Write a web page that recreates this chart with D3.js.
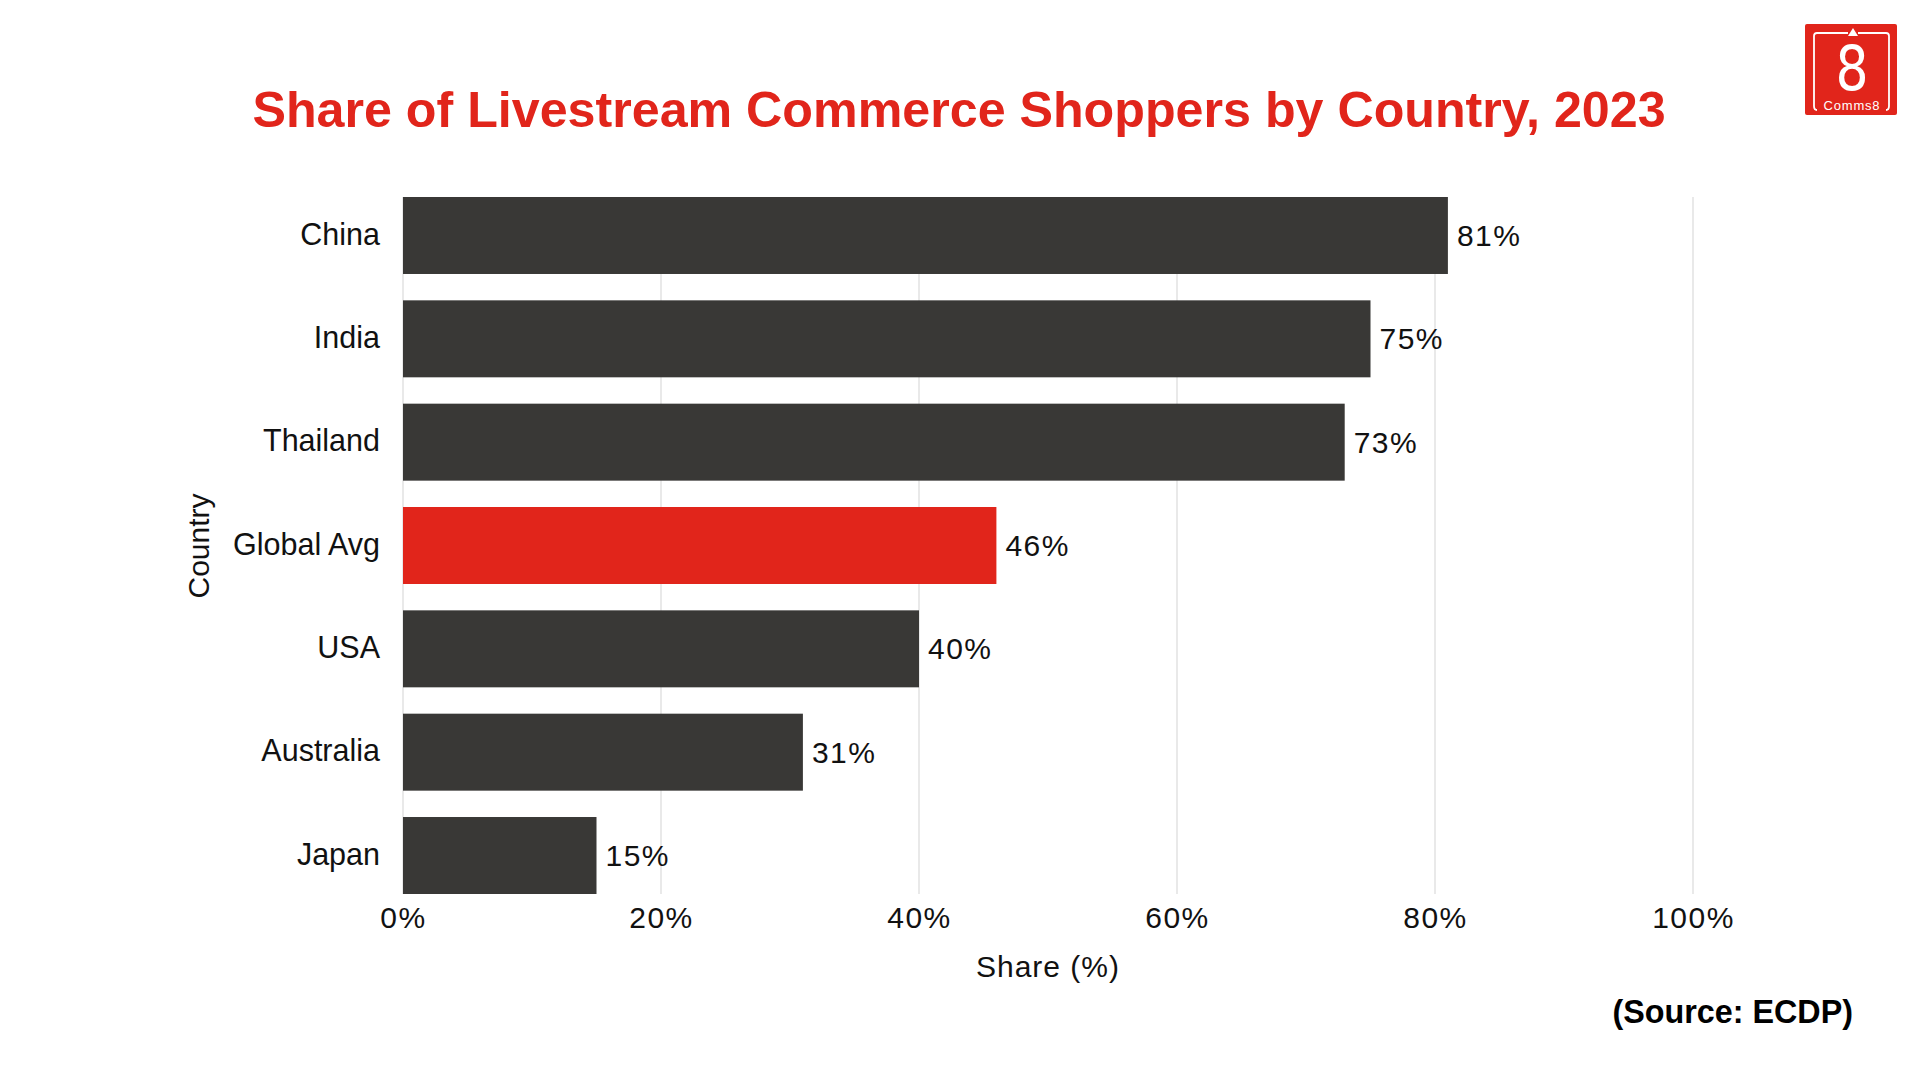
<!DOCTYPE html>
<html>
<head>
<meta charset="utf-8">
<script src="https://cdn.jsdelivr.net/npm/d3@7"></script>
<style>
  html, body { margin: 0; padding: 0; background: #fff; }
  svg { display: block; font-family: "Liberation Sans", Arial, Helvetica, sans-serif; }
</style>
</head>
<body>
<div id="chart"></div>
<script>
// data
const countries = ["China", "India", "Thailand", "Global Avg", "USA", "Australia", "Japan"];
const shares = [81, 75, 73, 46, 40, 31, 15];
const highlighted = "Global Avg";
const xTicks = [0, 20, 40, 60, 80, 100];

const W = 1920, H = 1080;
const margin = {top: 197, left: 403};
const plotW = 1290, plotH = 697;

const data = countries.map((c, i) => ({country: c, share: shares[i]}));

const svg = d3.select("#chart")
  .append("svg")
    .attr("width", W)
    .attr("height", H);

// title
svg.append("text")
  .attr("x", 959)
  .attr("y", 127)
  .attr("text-anchor", "middle")
  .attr("font-size", 50.2)
  .attr("font-weight", "bold")
  .attr("fill", "#e1251b")
  .text("Share of Livestream Commerce Shoppers by Country, 2023");

const g = svg.append("g")
  .attr("transform", "translate(" + margin.left + "," + margin.top + ")");

const x = d3.scaleLinear()
  .domain([0, 100])
  .range([0, plotW]);

const y = d3.scaleBand()
  .domain(countries)
  .range([0, plotH])
  .paddingInner(0.255)
  .paddingOuter(0);

// grid lines
g.selectAll(".grid")
  .data(xTicks)
  .enter()
  .append("line")
    .attr("x1", d => x(d))
    .attr("x2", d => x(d))
    .attr("y1", 0)
    .attr("y2", plotH)
    .attr("stroke", "#dedede")
    .attr("stroke-width", 1.3);

// x axis (labels only)
const xAxis = g.append("g")
  .attr("transform", "translate(0," + plotH + ")")
  .call(d3.axisBottom(x).tickValues(xTicks).tickFormat(d => d + "%").tickSize(0).tickPadding(0));
xAxis.select(".domain").remove();
xAxis.selectAll("text")
  .attr("y", 33.5)
  .attr("dy", 0)
  .attr("font-size", 30)
  .attr("letter-spacing", 1.5)
  .attr("fill", "#111")
  .attr("font-family", "Liberation Sans, Arial, sans-serif");

// y axis (labels only)
const yAxis = g.append("g")
  .call(d3.axisLeft(y).tickSize(0).tickPadding(23));
yAxis.select(".domain").remove();
yAxis.selectAll("text")
  .attr("font-size", 30.5)
  .attr("dy", "0.3em")
  .attr("fill", "#111")
  .attr("font-family", "Liberation Sans, Arial, sans-serif");

// bars
g.selectAll(".bar")
  .data(data)
  .enter()
  .append("rect")
    .attr("x", x(0))
    .attr("y", d => y(d.country))
    .attr("width", d => x(d.share) - x(0))
    .attr("height", y.bandwidth())
    .attr("fill", d => d.country === highlighted ? "#e1251b" : "#393836");

// value labels
g.selectAll(".val")
  .data(data)
  .enter()
  .append("text")
    .attr("x", d => x(d.share) + 9)
    .attr("y", d => y(d.country) + y.bandwidth() / 2)
    .attr("dy", "0.35em")
    .attr("font-size", 30)
    .attr("letter-spacing", 1.5)
    .attr("fill", "#111")
    .text(d => d.share + "%");

// axis titles
svg.append("text")
  .attr("x", 1048)
  .attr("y", 977)
  .attr("text-anchor", "middle")
  .attr("font-size", 30)
  .attr("letter-spacing", 1)
  .attr("fill", "#111")
  .text("Share (%)");

svg.append("text")
  .attr("transform", "translate(209,546) rotate(-90)")
  .attr("text-anchor", "middle")
  .attr("font-size", 30)
  .attr("fill", "#111")
  .text("Country");

// source
svg.append("text")
  .attr("x", 1853)
  .attr("y", 1023)
  .attr("text-anchor", "end")
  .attr("font-size", 32.3)
  .attr("font-weight", "bold")
  .attr("fill", "#000")
  .text("(Source: ECDP)");

// logo
const logo = svg.append("g").attr("transform", "translate(1805,24)");
logo.append("rect")
  .attr("width", 92).attr("height", 91).attr("rx", 2)
  .attr("fill", "#e1251b");
logo.append("path")
  .attr("d", "M12,86 Q9,86 9,82 L9,12 Q9,9 12,9 L43,9 M53,9 L81,9 Q84,9 84,12 L84,82 Q84,86 81,86")
  .attr("fill", "none")
  .attr("stroke", "#fff")
  .attr("stroke-width", 1.8);
logo.append("path")
  .attr("d", "M43,12 L48,4 L53,12 Z")
  .attr("fill", "#fff");
logo.append("text")
  .attr("transform", "translate(47,66) scale(1,1.2)")
  .attr("text-anchor", "middle")
  .attr("font-size", 52)
  .attr("fill", "#fff")
  .attr("font-family", "DejaVu Sans, sans-serif")
  .text("8");
logo.append("text")
  .attr("x", 47).attr("y", 86)
  .attr("text-anchor", "middle")
  .attr("font-size", 13)
  .attr("letter-spacing", 0.8)
  .attr("fill", "#fff")
  .text("Comms8");
</script>
</body>
</html>
